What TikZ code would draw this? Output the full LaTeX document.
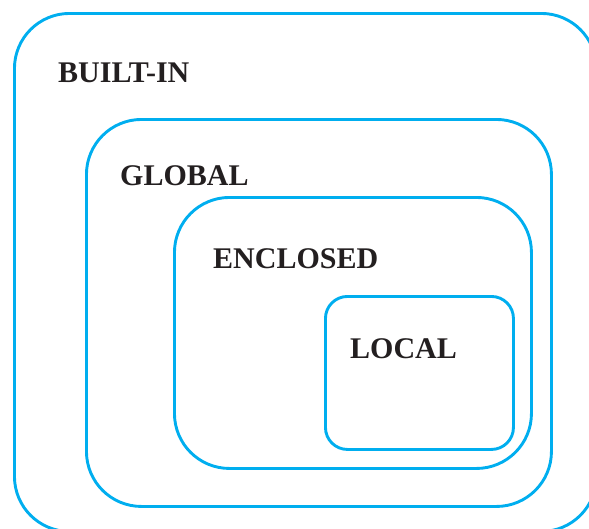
\documentclass[tikz,border=0pt]{standalone}
\usepackage{fontspec}
\setmainfont{Liberation Serif}
\usetikzlibrary{
	positioning,
	calc
  }
\definecolor{scopecyan}{RGB}{0,174,239}
\definecolor{inkgray}{RGB}{35,31,32}
\tikzstyle{scopebox}=[draw=scopecyan,line width=2.9pt,rectangle,anchor=north west,inner sep=0pt]
\tikzstyle{scopename}=[anchor=base west,inner sep=0pt,text=inkgray,font=\fontsize{30}{36}\selectfont\bfseries]

\begin{document}
\begin{tikzpicture}[x=1pt,y=-1pt]
\useasboundingbox (0,0) rectangle (589,528);
\clip (0,0) rectangle (589,528);
\node[scopebox,rounded corners=55pt,minimum width=582pt,minimum height=518pt] (builtin) at (13,12) {};
\node[scopebox,rounded corners=55pt,minimum width=465pt,minimum height=387pt] (global) at (85,118) {};
\node[scopebox,rounded corners=55pt,minimum width=357pt,minimum height=271pt] (enclosed) at (173,196) {};
\node[scopebox,rounded corners=22pt,minimum width=188pt,minimum height=153pt] (local) at (324,295) {};
\node[scopename] (builtinname) at ($(builtin.north west)+(45,70)$) {BUILT-IN};
\node[scopename] (globalname) at ($(global.north west)+(35,67)$) {GLOBAL};
\node[scopename] (enclosedname) at ($(enclosed.north west)+(40,72)$) {ENCLOSED};
\node[scopename] (localname) at ($(local.north west)+(26,63)$) {LOCAL};
\end{tikzpicture}
\end{document}
